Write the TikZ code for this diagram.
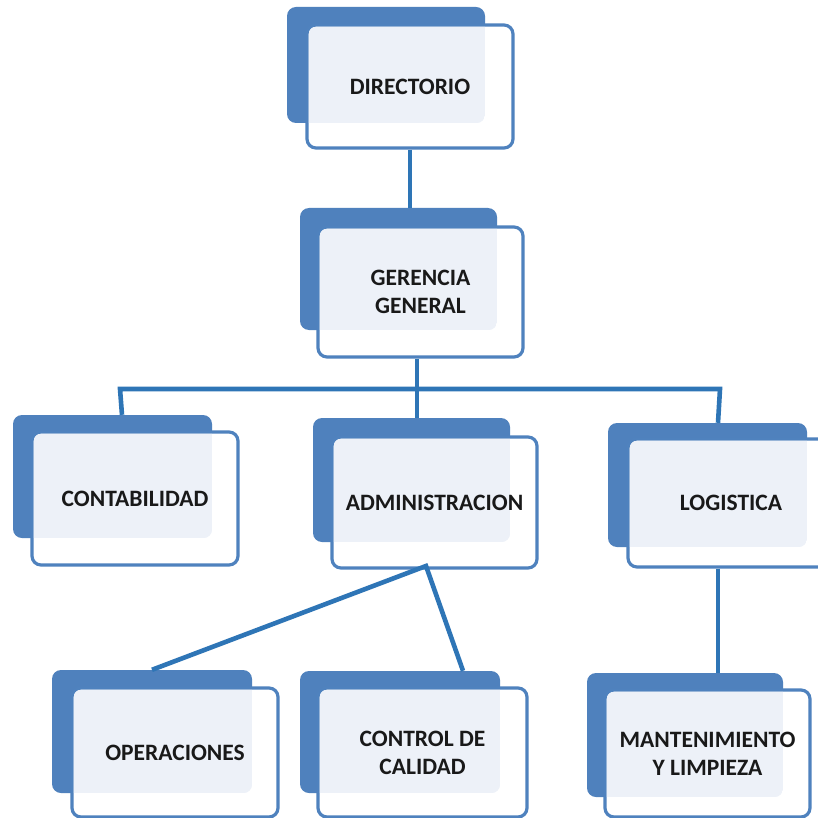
\documentclass[tikz,border=0pt]{standalone}
\usepackage{fontspec}
\setmainfont{Carlito}
\usetikzlibrary{calc,fit}

\definecolor{backblue}{HTML}{4F81BD}
\definecolor{edgeblue}{HTML}{4F82BE}
\definecolor{linkblue}{HTML}{2E75B6}
\definecolor{paleblue}{HTML}{EDF1F8}

\tikzset{
  backbox/.style={fill=backblue, draw=none, rounded corners=9pt, inner sep=0pt},
  frontbox/.style={fill=white, draw=edgeblue, line width=3.2pt, rounded corners=9pt, inner sep=0pt},
  unittext/.style={font=\bfseries\fontsize{23.5}{28}\selectfont, align=center, text=black!90, inner sep=0pt},
  link/.style={draw=linkblue, line width=4.6pt},
}

% #1 name, #2/#3 back card corners, #4/#5 front card corners, #6 caption
\newcommand\orgunit[6]{%
  \node[backbox, fit={#2 #3}] (#1b) {};
  \node[frontbox, fit={#4 #5}] (#1) {};
  \begin{scope}
    \clip[rounded corners=9pt] (#1b.north west) rectangle (#1b.south east);
    \clip[rounded corners=7pt] ($(#1.north west)+(3.5,3.5)$) rectangle ($(#1.south east)-(3.5,3.5)$);
    \fill[paleblue] (#1b.north west) rectangle (#1b.south east);
  \end{scope}
  \node[unittext] (#1t) at (#1.center) {#6};
}

\begin{document}
\begin{tikzpicture}[x=1pt, y=-1pt]
  \fill[white] (0,0) rectangle (818,818);
  \useasboundingbox (0,0) rectangle (818,818);

  \orgunit{dir}{(287,7)}{(485,123)}{(307,25)}{(513,148)}{DIRECTORIO}
  \orgunit{ger}{(300,208)}{(497,330)}{(318,227)}{(523,357)}{GERENCIA\\GENERAL}
  \orgunit{con}{(13,415)}{(212,538)}{(32,432)}{(238,565)}{CONTABILIDAD}
  \orgunit{adm}{(313,418)}{(510,542)}{(332,437)}{(537,568)}{ADMINISTRACION}
  \orgunit{log}{(608,423)}{(807,547)}{(628,439)}{(834,567)}{LOGISTICA}
  \orgunit{ope}{(52,670)}{(252,793)}{(72,688)}{(278,817)}{OPERACIONES}
  \orgunit{ctl}{(300,671)}{(500,793)}{(318,688)}{(527,817)}{CONTROL DE\\CALIDAD}
  \orgunit{man}{(587,673)}{(783,797)}{(605,690)}{(810,817)}{MANTENIMIENTO\\Y LIMPIEZA}

  % bus and branch points
  \coordinate (busL) at (122,389);
  \coordinate (busM) at (417,389);
  \coordinate (busR) at (718,389);
  \coordinate (apex) at (426,566);
  \coordinate (ctlx) at (463,0);

  % connectors
  \draw[link] (dir.south) -- (dir.south |- gerb.north);
  \draw[link] (busM |- ger.south) -- (busM |- admb.north);
  \draw[link] (busL |- conb.north) -- ($(busL)+(-2,0)$) -- ($(busR)+(2,0)$) -- (busR |- logb.north);
  \draw[link] (opeb.north) -- (apex) -- (ctlx |- ctlb.north);
  \draw[link] (busR |- log.south) -- (busR |- manb.north);
\end{tikzpicture}
\end{document}
